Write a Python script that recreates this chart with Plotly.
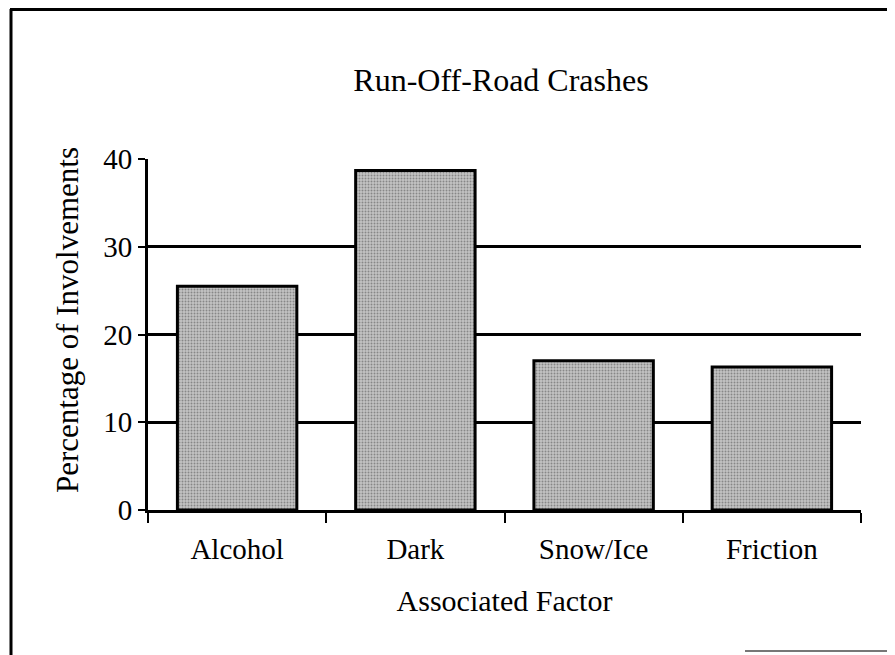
import plotly.graph_objects as go

# Run-off-road crash involvements by associated factor
factors = ['Alcohol', 'Dark', 'Snow/Ice', 'Friction']
percentages = [25.5, 38.7, 17.0, 16.3]
y_ticks = [0, 10, 20, 30, 40]

# the page body has an 8px margin, so the figure is laid out 8px up/left
W, H = 895, 655
left, right, top, bottom = 140, 42, 151, 153
plot_w = W - left - right
plot_h = H - top - bottom


def px_x(x):
    return (x - left) / plot_w


def px_y(y):
    return (H - bottom - y) / plot_h


serif = 'Liberation Serif, Times New Roman, serif'

bars = go.Bar(
    x=factors,
    y=percentages,
    width=0.67,
    marker=dict(
        color='#b0b0b0',
        line=dict(color='black', width=3),
        pattern=dict(shape='.', fgcolor='#4a4a4a', bgcolor='#c4c4c4',
                     size=3, solidity=0.35),
    ),
    hoverinfo='x+y',
)

fig = go.Figure(data=[bars])

fig.update_layout(
    width=W, height=H,
    margin=dict(l=left, r=right, t=top, b=bottom),
    paper_bgcolor='white',
    plot_bgcolor='white',
    showlegend=False,
    font=dict(family=serif, color='black'),
    title=dict(text='Run-Off-Road Crashes', x=493 / W, xanchor='center',
               y=1 - 72 / H, yanchor='middle', font=dict(size=32, family=serif)),
    bargap=0.33,
)

fig.update_xaxes(
    showline=True, linecolor='black', linewidth=3,
    ticks='outside', tickson='boundaries', ticklen=10, tickwidth=2, tickcolor='black',
    tickfont=dict(size=29, family=serif), ticklabelstandoff=11,
    title=dict(text='Associated Factor', font=dict(size=30, family=serif), standoff=27),
    showgrid=False, zeroline=False,
)

fig.update_yaxes(
    range=[0, 40], tickvals=y_ticks,
    showline=True, linecolor='black', linewidth=3,
    ticks='outside', ticklen=7, tickwidth=2, tickcolor='black',
    tickfont=dict(size=29, family=serif),
    showgrid=True, gridcolor='black', gridwidth=2.5,
    zeroline=False,
)

# y title sits a bit above the plot-area centre in the original
fig.add_annotation(text='Percentage of Involvements', textangle=-90,
                   xref='paper', yref='paper', x=px_x(59), y=px_y(312),
                   xanchor='center', yanchor='middle', showarrow=False,
                   font=dict(size=31, family=serif))

# outer frame of the original figure (left + top, partial bottom)
fig.add_shape(type='line', xref='paper', yref='paper',
              x0=px_x(3), x1=px_x(3), y0=px_y(1), y1=px_y(H),
              line=dict(color='black', width=3))
fig.add_shape(type='line', xref='paper', yref='paper',
              x0=px_x(2), x1=px_x(W), y0=px_y(1.5), y1=px_y(1.5),
              line=dict(color='black', width=3))
fig.add_shape(type='line', xref='paper', yref='paper',
              x0=px_x(737), x1=px_x(W), y0=px_y(643), y1=px_y(643),
              line=dict(color='#777777', width=2))

fig.write_html('out.html')
